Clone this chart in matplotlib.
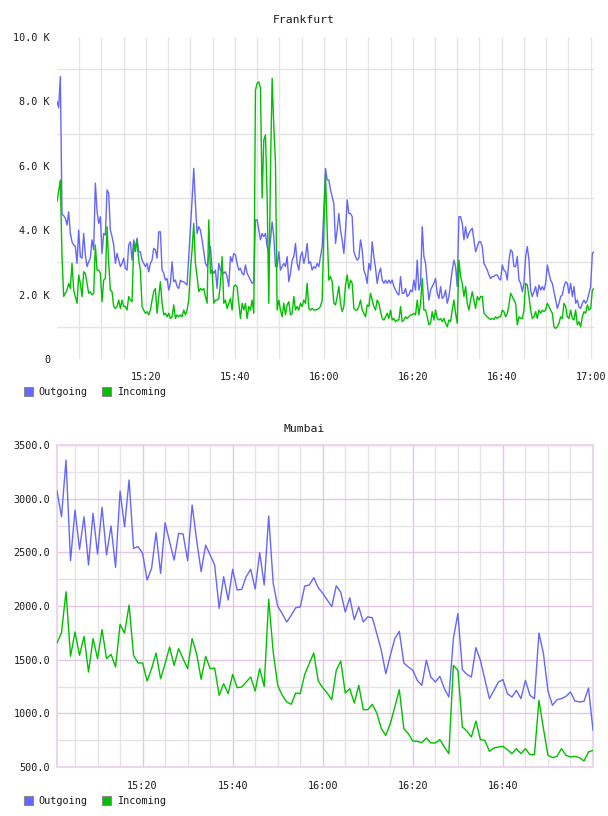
import matplotlib
matplotlib.use("Agg")
import matplotlib.pyplot as plt
import numpy as np
from matplotlib.patches import Patch

plt.rcParams['font.family'] = 'DejaVu Sans Mono'
plt.rcParams['font.size'] = 7.3

BLUE = '#6666ff'
GREEN = '#00c000'
TXT = '#1a1a1a'

# Frankfurt: samples every 22.5 s from 15:00, values in K
fra_step_min = 0.375
fra_out = [
    8.0, 7.8, 8.77, 4.5, 4.45, 4.37, 4.16, 4.57, 3.9, 3.64,
    3.54, 3.5, 2.97, 4.0, 3.18, 3.13, 3.9, 3.23, 2.87, 3.02,
    3.13, 3.7, 3.39, 5.46, 4.6, 4.21, 4.42, 3.28, 3.9, 3.85,
    5.25, 5.14, 4.0, 3.8, 3.54, 2.97, 3.28, 3.07, 2.87, 2.97,
    3.13, 2.82, 2.76, 3.54, 3.64, 3.07, 3.7, 3.44, 3.75, 3.33,
    3.33, 3.07, 2.97, 2.87, 2.97, 2.71, 2.97, 3.07, 3.44, 3.39,
    3.13, 3.95, 3.95, 2.76, 2.66, 2.45, 2.5, 2.14, 2.35, 3.02,
    2.4, 2.45, 2.25, 2.19, 2.45, 2.4, 2.4, 2.35, 2.3, 3.18,
    4.11, 4.94, 5.92, 4.83, 3.9, 4.11, 4.0, 3.7, 3.33, 2.97,
    2.87, 3.18, 3.49, 2.76, 2.66, 2.76, 2.19, 2.97, 2.76, 2.71,
    2.66, 2.71, 2.56, 2.25, 3.18, 3.02, 3.28, 3.23, 2.97, 2.76,
    2.82, 2.66, 2.61, 2.92, 2.66, 2.56, 2.45, 2.35, 2.4, 4.32,
    4.32, 4.0, 3.7, 3.9, 3.8, 3.9, 3.49, 3.28, 3.7, 4.26,
    3.8, 2.87, 2.87, 3.33, 2.76, 2.87, 2.97, 2.87, 3.18, 2.4,
    2.66, 3.07, 3.18, 3.59, 2.97, 2.76, 3.18, 3.33, 2.97, 3.18,
    3.59, 2.97, 3.02, 2.76, 2.87, 2.82, 2.97, 2.87, 3.18, 3.49,
    4.63, 5.92, 5.56, 5.56, 5.25, 5.04, 4.83, 3.59, 4.0, 4.52,
    4.0, 3.7, 3.28, 4.0, 4.94, 4.52, 4.52, 4.42, 3.33, 3.18,
    3.07, 3.13, 3.7, 3.39, 2.76, 2.61, 2.35, 2.97, 2.76, 3.64,
    3.18, 2.82, 2.35, 2.66, 2.82, 2.45, 2.35, 2.45, 2.35, 2.45,
    2.35, 2.45, 2.25, 2.14, 2.04, 1.99, 2.56, 2.04, 2.04, 2.19,
    1.94, 1.99, 2.14, 2.09, 2.45, 2.14, 3.07, 2.14, 2.35, 4.11,
    3.18, 2.97, 2.35, 1.83, 2.14, 2.25, 2.35, 2.5, 2.04, 1.88,
    2.25, 1.88, 1.94, 2.14, 1.73, 1.94, 2.35, 2.76, 3.07, 2.87,
    2.25, 4.42, 4.42, 4.21, 3.7, 4.11, 3.75, 3.9, 4.0, 4.06,
    3.7, 3.33, 3.49, 3.64, 3.64, 3.49, 2.97, 2.87, 2.76, 2.61,
    2.5, 2.56, 2.56, 2.61, 2.61, 2.5, 2.45, 2.92, 2.76, 2.71,
    2.45, 3.07, 3.39, 3.33, 2.87, 2.87, 3.18, 2.45, 2.35, 2.09,
    2.35, 3.18, 3.49, 3.07, 2.14, 1.94, 2.09, 2.25, 1.94, 2.3,
    2.14, 2.25, 2.14, 2.35, 2.92, 2.66, 2.45, 2.35, 2.09, 1.83,
    1.57, 1.73, 1.94, 1.99, 2.25, 2.4, 2.35, 2.04, 2.35, 1.94,
    2.25, 1.73, 1.83, 1.62, 1.57, 1.73, 1.83, 1.73, 1.83, 2.04,
    2.25, 3.28, 3.33,
]
fra_in = [
    4.89, 5.2, 5.56, 3.18, 1.94, 2.04, 2.14, 2.35, 2.19, 2.97,
    2.14, 1.94, 1.73, 2.61, 2.35, 1.94, 2.71, 2.66, 2.35, 2.04,
    2.09, 1.99, 2.04, 3.54, 2.76, 2.76, 2.66, 1.78, 2.45, 2.5,
    4.11, 2.97, 2.14, 2.09, 1.63, 1.57, 1.63, 1.83, 1.57, 1.83,
    1.63, 1.63, 1.52, 1.94, 1.83, 1.78, 3.59, 3.33, 3.7, 3.07,
    2.76, 1.63, 1.52, 1.42, 1.47, 1.37, 1.52, 1.83, 2.09, 2.19,
    1.42, 1.94, 2.4, 1.73, 1.37, 1.42, 1.31, 1.42, 1.26, 1.31,
    1.68, 1.26, 1.37, 1.31, 1.37, 1.31, 1.52, 1.37, 1.52, 1.83,
    2.76, 3.39, 4.21, 2.97, 2.56, 2.09, 2.19, 2.14, 2.19, 1.94,
    1.73, 4.32, 2.66, 2.76, 1.73, 1.83, 1.83, 1.88, 2.35, 3.18,
    1.73, 1.83, 1.57, 1.73, 1.88, 1.52, 2.25, 2.3, 2.25, 1.73,
    1.26, 1.73, 1.52, 1.73, 1.26, 1.63, 1.52, 1.83, 1.42, 8.35,
    8.56, 8.61, 8.41, 5.0, 6.8, 6.96, 5.04, 1.73, 5.87, 8.72,
    7.22, 6.08, 1.52, 1.83, 1.52, 1.31, 1.73, 1.37, 1.68, 1.78,
    1.37, 1.42, 1.94, 1.52, 1.63, 1.52, 1.73, 1.63, 1.83, 1.73,
    2.35, 1.57, 1.52, 1.57, 1.52, 1.52, 1.54, 1.57, 1.63, 1.83,
    4.0, 5.77, 4.0, 2.45, 2.56, 2.4, 1.73, 1.68, 1.94, 2.25,
    1.73, 1.47, 1.63, 2.3, 2.61, 2.19, 2.45, 2.35, 1.57, 1.52,
    1.52, 1.63, 1.83, 1.52, 1.42, 1.31, 1.68, 1.63, 2.04, 1.83,
    1.63, 1.52, 1.83, 1.73, 1.47, 1.26, 1.21, 1.31, 1.42, 1.26,
    1.52, 1.21, 1.26, 1.16, 1.21, 1.21, 1.63, 1.16, 1.21, 1.31,
    1.26, 1.31, 1.37, 1.37, 1.42, 1.37, 1.83, 1.37, 1.73, 2.5,
    1.52, 1.52, 1.31, 1.06, 1.11, 1.47, 1.21, 1.52, 1.26, 1.21,
    1.26, 1.16, 1.26, 1.11, 1.0, 1.21, 1.16, 1.52, 1.83, 1.42,
    1.11, 3.07, 2.56, 2.35, 1.94, 2.25, 1.73, 1.52, 1.83, 2.09,
    1.83, 1.57, 1.94, 1.83, 1.94, 1.94, 1.42, 1.37, 1.31, 1.26,
    1.23, 1.26, 1.23, 1.31, 1.26, 1.31, 1.31, 1.52, 1.47, 1.31,
    1.42, 1.68, 2.04, 1.94, 1.83, 1.73, 1.06, 1.31, 1.26, 1.26,
    1.52, 2.35, 2.3, 1.94, 1.52, 1.26, 1.31, 1.47, 1.26, 1.52,
    1.42, 1.52, 1.47, 1.52, 1.73, 1.63, 1.52, 1.42, 1.0, 0.95,
    1.0, 1.11, 1.31, 1.26, 1.73, 1.63, 1.31, 1.26, 1.52, 1.26,
    1.21, 1.52, 1.06, 1.16, 1.0, 1.31, 1.47, 1.42, 1.68, 1.52,
    1.57, 2.14, 2.19,
]
fra_yticks = [0, 2, 4, 6, 8, 10]
fra_ylabels = ['0', '2.0 K', '4.0 K', '6.0 K', '8.0 K', '10.0 K']
fra_xticks = [20, 40, 60, 80, 100, 120]
fra_xlabels = ['15:20', '15:40', '16:00', '16:20', '16:40', '17:00']

# Mumbai: one sample per minute, 15:01 .. 17:00
mum_min = np.arange(1, 121)
mum_out = [
    3071, 2832, 3360, 2422, 2894, 2528, 2832, 2382, 2863, 2484,
    2919, 2475, 2745, 2360, 3071, 2739, 3174, 2537, 2553, 2491,
    2242, 2351, 2683, 2304, 2776, 2599, 2428, 2677, 2671, 2422,
    2941, 2615, 2320, 2568, 2475, 2382, 1978, 2273, 2056, 2342,
    2149, 2155, 2273, 2342, 2158, 2497, 2196, 2838, 2211, 1997,
    1929, 1851, 1913, 1984, 1991, 2186, 2195, 2264, 2171, 2118,
    2056, 1994, 2189, 2127, 1944, 2077, 1873, 1991, 1851, 1898,
    1891, 1742, 1587, 1369, 1540, 1696, 1764, 1469, 1432, 1401,
    1307, 1261, 1494, 1338, 1292, 1345, 1230, 1152, 1696, 1929,
    1407, 1363, 1338, 1612, 1494, 1314, 1137, 1214, 1292, 1314,
    1183, 1152, 1214, 1137, 1307, 1168, 1137, 1748, 1556, 1208,
    1074, 1127, 1137, 1158, 1199, 1115, 1106, 1112, 1236, 842,
]
mum_in = [
    1655, 1752, 2133, 1531, 1758, 1540, 1717, 1385, 1696, 1509,
    1780, 1509, 1550, 1432, 1829, 1748, 2009, 1540, 1469, 1469,
    1301, 1416, 1562, 1323, 1463, 1618, 1447, 1602, 1509, 1416,
    1696, 1556, 1317, 1531, 1416, 1422, 1168, 1276, 1183, 1363,
    1239, 1245, 1292, 1338, 1208, 1416, 1251, 2062, 1571, 1261,
    1168, 1106, 1084, 1189, 1183, 1363, 1463, 1562, 1301, 1239,
    1189, 1127, 1401, 1488, 1189, 1230, 1096, 1261, 1034, 1034,
    1084, 1003, 857, 795, 904, 1059, 1220, 857, 810, 742,
    739, 727, 770, 724, 724, 755, 686, 624, 1447, 1401,
    873, 835, 779, 928, 755, 748, 646, 677, 686, 692,
    661, 624, 671, 624, 671, 615, 615, 1121, 857, 609,
    587, 599, 671, 609, 593, 599, 587, 556, 640, 655,
]
mum_yticks = [500, 1000, 1500, 2000, 2500, 3000, 3500]
mum_ylabels = ['500.0', '1000.0', '1500.0', '2000.0', '2500.0', '3000.0', '3500.0']
mum_xticks = [20, 40, 60, 80, 100]
mum_xlabels = ['15:20', '15:40', '16:00', '16:20', '16:40']

W, H = 608, 816


def box(l, t, r, b):
    return [l / W, 1 - b / H, (r - l) / W, (b - t) / H]


def legend(y):
    hs = [Patch(facecolor=BLUE, edgecolor='#8a8a8a', lw=0.8),
          Patch(facecolor=GREEN, edgecolor='#8a8a8a', lw=0.8)]
    fig.legend(hs, ['Outgoing', 'Incoming'], loc='center left',
               bbox_to_anchor=(24 / W, 1 - y / H), ncol=2, frameon=False,
               handlelength=0.9, handleheight=0.9, handletextpad=0.55,
               columnspacing=1.4, borderpad=0, borderaxespad=0,
               labelcolor=TXT)


fig = plt.figure(figsize=(W / 100, H / 100), dpi=100)

# ---- Frankfurt
fra_t = np.arange(len(fra_out)) * fra_step_min
ax1 = fig.add_axes(box(57, 37, 594, 359))
ax1.plot(fra_t, fra_out, color=BLUE, lw=1.0, zorder=3)
ax1.plot(fra_t, fra_in, color=GREEN, lw=1.0, zorder=3)
ax1.set_xlim(0, fra_t[-1])
ax1.set_ylim(0, 10)
ax1.set_yticks(fra_yticks, fra_ylabels)
ax1.set_yticks([1, 3, 5, 7, 9], minor=True)
ax1.set_xticks(fra_xticks, fra_xlabels)
ax1.set_xticks(range(5, 121, 5), minor=True)
ax1.xaxis.grid(True, which='both', color='#e6e6e6', lw=1)
ax1.yaxis.grid(True, which='minor', color='#e4e4e4', lw=1)
ax1.yaxis.grid(False, which='major')
ax1.set_axisbelow(True)
for s in ax1.spines.values():
    s.set_visible(False)
ax1.tick_params(which='both', length=0, colors=TXT)
ax1.tick_params(axis='y', pad=5)
ax1.tick_params(axis='x', pad=9)
fig.text(0.5, 1 - 20 / H, 'Frankfurt', ha='center', va='center',
         color=TXT, fontsize=8.2)
legend(392)

# ---- Mumbai
ax2 = fig.add_axes(box(57, 445, 593, 767))
ax2.plot(mum_min, mum_out, color=BLUE, lw=1.0, zorder=3)
ax2.plot(mum_min, mum_in, color=GREEN, lw=1.0, zorder=3)
ax2.set_xlim(1, 120)
ax2.set_ylim(500, 3500)
ax2.set_yticks(mum_yticks, mum_ylabels)
ax2.set_yticks(range(750, 3500, 500), minor=True)
ax2.set_xticks(mum_xticks, mum_xlabels)
ax2.set_xticks(range(5, 120, 5), minor=True)
ax2.grid(True, which='major', color='#e2c8e2', lw=1)
ax2.grid(True, which='minor', color='#e8e2e8', lw=1)
ax2.set_axisbelow(True)
for s in ax2.spines.values():
    s.set_color('#ead8ea')
    s.set_linewidth(1.5)
ax2.tick_params(which='both', length=0, colors=TXT)
ax2.tick_params(axis='y', pad=5)
ax2.tick_params(axis='x', pad=10)
fig.text(0.5, 1 - 429 / H, 'Mumbai', ha='center', va='center',
         color=TXT, fontsize=8.2)
legend(801)

fig.savefig('out.png', dpi=100)
